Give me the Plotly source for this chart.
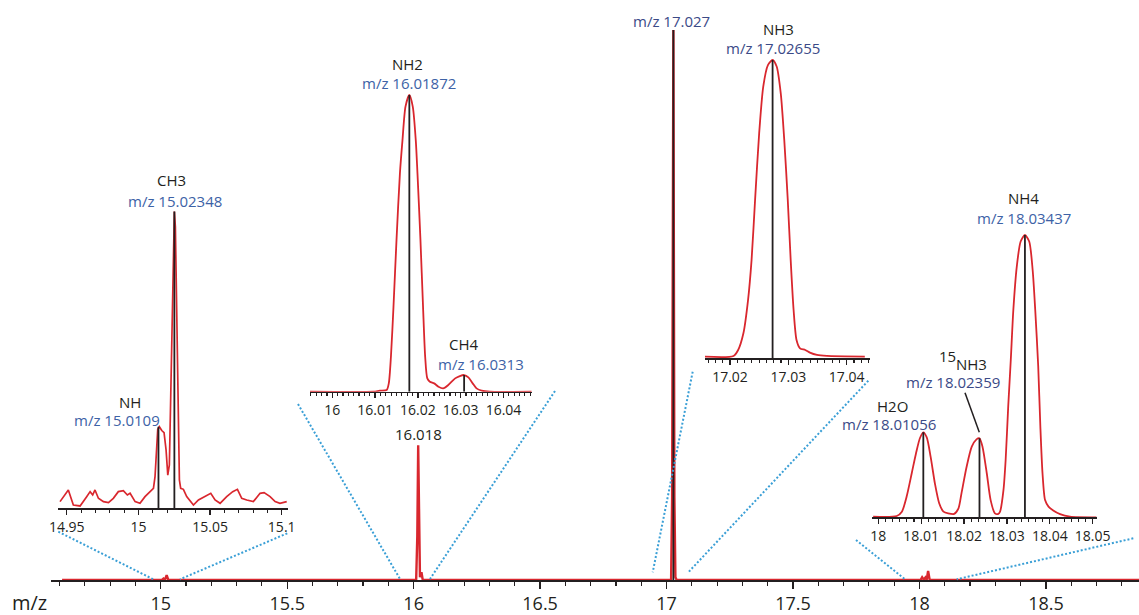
import plotly.graph_objects as go

# ---------------- data ----------------
# main survey spectrum (m/z, relative intensity, 17.027 peak = 100)
main_mz = [14.61, 15.005, 15.011, 15.017, 15.0235, 15.030, 16.010, 16.0145, 16.018, 16.0215,
           16.025, 16.031, 16.036, 17.018, 17.022, 17.027, 17.031, 17.035, 17.040, 18.004,
           18.0105, 18.017, 18.0236, 18.0285, 18.0342, 18.040, 18.045, 18.868]
main_int = [0, 0, 0.25, 0.05, 0.9, 0, 0, 8, 24.5, 8,
            0.5, 1.4, 0, 0, 15, 100, 15, 0.5, 0, 0,
            0.5, 0.05, 0.46, 0.05, 1.65, 0.1, 0, 0]
main_stick_mz = [17.027]
main_stick_int = [100]
main_ticks = [15, 15.5, 16, 16.5, 17, 17.5, 18, 18.5]
main_ticktext = ["15", "15.5", "16", "16.5", "17", "17.5", "18", "18.5"]

# inset 1: NH / CH3
ins1_mz = [14.9453, 14.9511, 14.9546, 14.9593, 14.9639, 14.9663, 14.9681, 14.9697, 14.9721, 14.9756,
           14.9791, 14.9825, 14.9860, 14.9895, 14.9923, 14.9942, 14.9977, 15.0011, 15.0046, 15.0081,
           15.0105, 15.0116, 15.0126, 15.0135, 15.0146, 15.0163, 15.0179, 15.0193, 15.0205, 15.0216,
           15.0226, 15.0237, 15.0246, 15.0251, 15.0258, 15.0267, 15.0277, 15.0286, 15.0295, 15.0314,
           15.0337, 15.0384, 15.0419, 15.0465, 15.0505, 15.0535, 15.0570, 15.0616, 15.0658, 15.0691,
           15.0721, 15.0756, 15.0802, 15.0849, 15.0877, 15.0919, 15.0954, 15.0988, 15.1035]
ins1_int = [2.25, 6.18, 1.12, 0.79, 3.93, 5.62, 4.49, 6.18, 3.37, 2.25,
            1.91, 3.37, 5.62, 5.96, 4.49, 5.06, 2.25, 1.69, 3.93, 5.62,
            6.74, 10.7, 20.8, 26.6, 27.5, 26.2, 25.5, 19.7, 11.2, 14.6,
            38.8, 72.5, 97.8, 100, 94.9, 66.9, 27.5, 9.6, 6.74, 6.4,
            3.93, 1.12, 2.8, 3.93, 5.06, 2.8, 1.69, 3.93, 5.62, 6.4,
            3.37, 2.8, 2.25, 5.06, 5.28, 3.93, 2.25, 1.69, 2.25]
ins1_stick_mz = [15.0140, 15.0251]
ins1_stick_int = [27.5, 100]
ins1_ticks = [14.95, 15.0, 15.05, 15.1]
ins1_ticktext = ["14.95", "15", "15.05", "15.1"]

# inset 2: NH2 / CH4
ins2_mz = [15.9948, 16.0096, 16.0111, 16.0127, 16.0132, 16.0137, 16.0143, 16.0150, 16.0158, 16.0164,
           16.0171, 16.0180, 16.0188, 16.0195, 16.0199, 16.0206, 16.0212, 16.0217, 16.0222, 16.0228,
           16.0238, 16.0248, 16.0259, 16.0271, 16.0287, 16.0298, 16.0308, 16.0318, 16.0328, 16.0337,
           16.0349, 16.0368, 16.0466]
ins2_int = [0, 0, 0.34, 0.56, 2.81, 11.8, 28.7, 51.1, 73.6, 84.8,
            96.1, 100, 96.1, 84.8, 73.6, 51.1, 28.7, 11.8, 4.49, 3.37,
            2.81, 1.69, 1.12, 2.25, 4.49, 5.28, 5.62, 4.83, 2.81, 1.12,
            0.34, 0, 0]
ins2_stick_mz = [16.0180, 16.0308]
ins2_stick_int = [100, 5.62]
ins2_ticks = [16.0, 16.01, 16.02, 16.03, 16.04]
ins2_ticktext = ["16", "16.01", "16.02", "16.03", "16.04"]

# inset 3: NH3
ins3_mz = [17.0157, 17.0206, 17.0214, 17.0223, 17.0231, 17.0237, 17.0243, 17.0250, 17.0257, 17.0265,
           17.0273, 17.0280, 17.0287, 17.0293, 17.0299, 17.0304, 17.0309, 17.0314, 17.0320, 17.0329,
           17.0337, 17.0349, 17.0366, 17.0431]
ins3_int = [0.56, 0.78, 2.79, 8.38, 19.6, 33.0, 53.1, 75.4, 91.1, 98.3,
            100, 97.8, 88.8, 73.2, 53.1, 33.0, 16.2, 6.15, 3.35, 2.79,
            1.9, 1.12, 0.78, 0.56]
ins3_stick_mz = [17.0273]
ins3_stick_int = [100]
ins3_ticks = [17.02, 17.03, 17.04]
ins3_ticktext = ["17.02", "17.03", "17.04"]

# inset 4: H2O / 15NH3 / NH4
ins4_mz = [17.9988, 18.0043, 18.0055, 18.0066, 18.0078, 18.0088, 18.0097, 18.0105, 18.0113, 18.0122,
           18.0132, 18.0142, 18.0152, 18.0163, 18.0177, 18.0187, 18.0194, 18.0206, 18.0218, 18.0229,
           18.0236, 18.0243, 18.0253, 18.0262, 18.0272, 18.0280, 18.0284, 18.0292, 18.0297, 18.0303,
           18.0309, 18.0315, 18.0323, 18.0332, 18.0342, 18.0352, 18.0360, 18.0366, 18.0373, 18.0378,
           18.0383, 18.0389, 18.0397, 18.0408, 18.0424, 18.0447, 18.0509]
ins4_int = [0.24, 0.47, 2.0, 7.3, 15.6, 22.7, 28.0, 30.1, 28.3, 21.5,
            12.0, 5.0, 2.0, 1.4, 1.2, 3.2, 8.5, 17.9, 25.0, 27.6,
            28.0, 25.0, 15.6, 6.1, 1.4, 1.2, 2.0, 9.7, 20.3, 39.2,
            55.7, 73.5, 88.8, 97.7, 100, 97.7, 87.6, 73.5, 53.4, 32.1,
            15.6, 6.1, 3.8, 2.4, 1.1, 0.24, 0]
ins4_stick_mz = [18.0105, 18.0236, 18.0342]
ins4_stick_int = [30.1, 28.0, 100]
ins4_ticks = [18.0, 18.01, 18.02, 18.03, 18.04, 18.05]
ins4_ticktext = ["18", "18.01", "18.02", "18.03", "18.04", "18.05"]

# label texts
species = ["CH3", "NH", "NH2", "CH4", "NH3", "NH4", "NH3", "H2O"]
mz_labels = ["m/z 15.02348", "m/z 15.0109", "m/z 16.01872", "m/z 16.0313",
             "m/z 17.02655", "m/z 18.03437", "m/z 18.02359", "m/z 18.01056"]
main_labels = ["16.018", "m/z 17.027"]

# ---------------- style / geometry ----------------
W, H = 1139, 615
RED = "#d9272e"
INK = "#231f20"
BLUE = "#3d62a6"
NAVY = "#3b4a87"
DOT = "#3a9fd6"
FONT = "Open Sans, Noto Sans, sans-serif"


def X(px):
    return px / W


def Y(py):
    return 1 - py / H


def sticks(xs, hs):
    sx, sy = [], []
    for a, b in zip(xs, hs):
        sx += [a, a, None]
        sy += [0, b, None]
    return sx, sy


fig = go.Figure()

series = [
    ("x", "y", main_mz, main_int, main_stick_mz, main_stick_int, 2.4, "linear", 0),
    ("x2", "y2", ins1_mz, ins1_int, ins1_stick_mz, ins1_stick_int, 1.7, "linear", 0),
    ("x3", "y3", ins2_mz, ins2_int, ins2_stick_mz, ins2_stick_int, 1.8, "spline", 0.7),
    ("x4", "y4", ins3_mz, ins3_int, ins3_stick_mz, ins3_stick_int, 1.8, "spline", 0.7),
    ("x5", "y5", ins4_mz, ins4_int, ins4_stick_mz, ins4_stick_int, 1.8, "spline", 0.7),
]
for xa, ya, mx, iy, smx, siy, lw, shape, sm in series:
    line = dict(color=RED, width=lw, shape=shape)
    if shape == "spline":
        line["smoothing"] = sm
    fig.add_trace(go.Scatter(x=mx, y=iy, xaxis=xa, yaxis=ya, mode="lines",
                             line=line, hoverinfo="skip", showlegend=False))
    sx, sy = sticks(smx, siy)
    fig.add_trace(go.Scatter(x=sx, y=sy, xaxis=xa, yaxis=ya, mode="lines",
                             line=dict(color=INK, width=1.8),
                             hoverinfo="skip", showlegend=False))


def xaxis_cfg(dom, rng, tv, tt, minor_dt, fs, ticklen, minorlen, lw, anchor):
    return dict(domain=dom, range=rng, anchor=anchor, showgrid=False, zeroline=False,
                automargin=False,
                showline=True, linecolor=INK, linewidth=lw,
                tickmode="array", tickvals=tv, ticktext=tt,
                ticks="outside", ticklen=ticklen, tickwidth=1.3, tickcolor=INK,
                tickfont=dict(family=FONT, size=fs, color=INK),
                minor=dict(tickmode="linear", tick0=tv[0], dtick=minor_dt, ticks="outside",
                           ticklen=minorlen, tickwidth=1.1, tickcolor=INK, showgrid=False),
                fixedrange=True)


def yaxis_cfg(dom, rng, anchor):
    return dict(domain=dom, range=rng, anchor=anchor, visible=False, showgrid=False,
                zeroline=False, automargin=False, fixedrange=True)


fig.update_layout(
    template="none",
    width=W, height=H, margin=dict(l=0, r=0, t=0, b=0, pad=0),
    paper_bgcolor="white", plot_bgcolor="rgba(0,0,0,0)",
    font=dict(family=FONT, color=INK),
    xaxis=xaxis_cfg([X(50.7), 1.0], [14.565, 18.868], main_ticks, main_ticktext, 0.1, 18, 7, 4, 1.6, "y"),
    yaxis=yaxis_cfg([Y(580), 1.0], [0, 105.45], "x"),
    xaxis2=xaxis_cfg([X(58.3), X(288.3)], [14.9441, 15.1046], ins1_ticks, ins1_ticktext, 0.01, 14, 5, 3, 1.5, "y2"),
    yaxis2=yaxis_cfg([Y(508.3), Y(200)], [0, 103.9], "x2"),
    xaxis3=xaxis_cfg([X(310), X(531.7)], [15.99479, 16.04659], ins2_ticks, ins2_ticktext, 0.00125, 14, 5, 3, 1.5, "y3"),
    yaxis3=yaxis_cfg([Y(391.7), Y(80)], [0, 105.06], "x3"),
    xaxis4=xaxis_cfg([X(705), X(870)], [17.01572, 17.04399], ins3_ticks, ins3_ticktext, 0.00125, 14, 5, 3, 1.5, "y4"),
    yaxis4=yaxis_cfg([Y(358.3), Y(40)], [0, 106.7], "x4"),
    xaxis5=xaxis_cfg([X(871.7), X(1096.7)], [17.99846, 18.05094], ins4_ticks, ins4_ticktext, 0.01 / 6, 14, 5, 3, 1.5, "y5"),
    yaxis5=yaxis_cfg([Y(517.3), Y(200)], [0, 112.4], "x5"),
)

# dotted connector lines (pixel endpoints)
connectors = [
    ((58.3, 531.7), (153.3, 579.3)), ((287.3, 533.3), (180.0, 579.3)),
    ((298.0, 404.0), (400.0, 579.0)), ((555.0, 391.0), (430.0, 579.0)),
    ((692.7, 371.7), (652.7, 572.3)), ((868.3, 380.7), (688.3, 572.3)),
    ((856.0, 540.0), (905.0, 579.3)), ((1133.3, 538.3), (956.7, 579.3)),
]
shapes = []
for (x0, y0), (x1, y1) in connectors:
    shapes.append(dict(type="line", xref="paper", yref="paper",
                       x0=X(x0), y0=Y(y0), x1=X(x1), y1=Y(y1),
                       line=dict(color=DOT, width=2, dash="2px,2px")))
# leader line for 15NH3
shapes.append(dict(type="line", xref="paper", yref="paper",
                   x0=X(965), y0=Y(392.7), x1=X(979.3), y1=Y(432.3),
                   line=dict(color=INK, width=1.5)))
fig.update_layout(shapes=shapes)

# labels: (text, px, py, color, size)
ann = [
    (species[0], 171, 180, INK, 15), (mz_labels[0], 175, 201, BLUE, 15),
    (species[1], 130, 402, INK, 15), (mz_labels[1], 117, 420, BLUE, 15),
    (species[2], 407, 64, INK, 15), (mz_labels[2], 409, 83, BLUE, 15),
    (species[3], 463.5, 344, INK, 15), (mz_labels[3], 480.5, 364, BLUE, 15),
    (species[4], 778, 29, INK, 15), (mz_labels[4], 772.5, 48, NAVY, 15),
    (species[5], 1023, 198, INK, 15), (mz_labels[5], 1024, 218, BLUE, 15),
    ("15", 947.5, 356, INK, 15), (species[6], 971.7, 364, INK, 15), (mz_labels[6], 952.5, 382, NAVY, 15),
    (species[7], 892.5, 406, INK, 15), (mz_labels[7], 889, 424, NAVY, 15),
    (main_labels[0], 418, 434, INK, 15), (main_labels[1], 671, 21, NAVY, 15),
    ("m/z", 29, 602, INK, 20),
]
annotations = []
for t, px, py, c, s in ann:
    annotations.append(dict(text=t, x=X(px), y=Y(py), xref="paper", yref="paper",
                            xanchor="center", yanchor="middle", showarrow=False,
                            font=dict(family=FONT, size=s, color=c)))
fig.update_layout(annotations=annotations)

fig.write_html("out.html",
               config={"displayModeBar": False, "staticPlot": True},
               post_script="document.body.style.margin='0';document.body.style.overflow='hidden';")
